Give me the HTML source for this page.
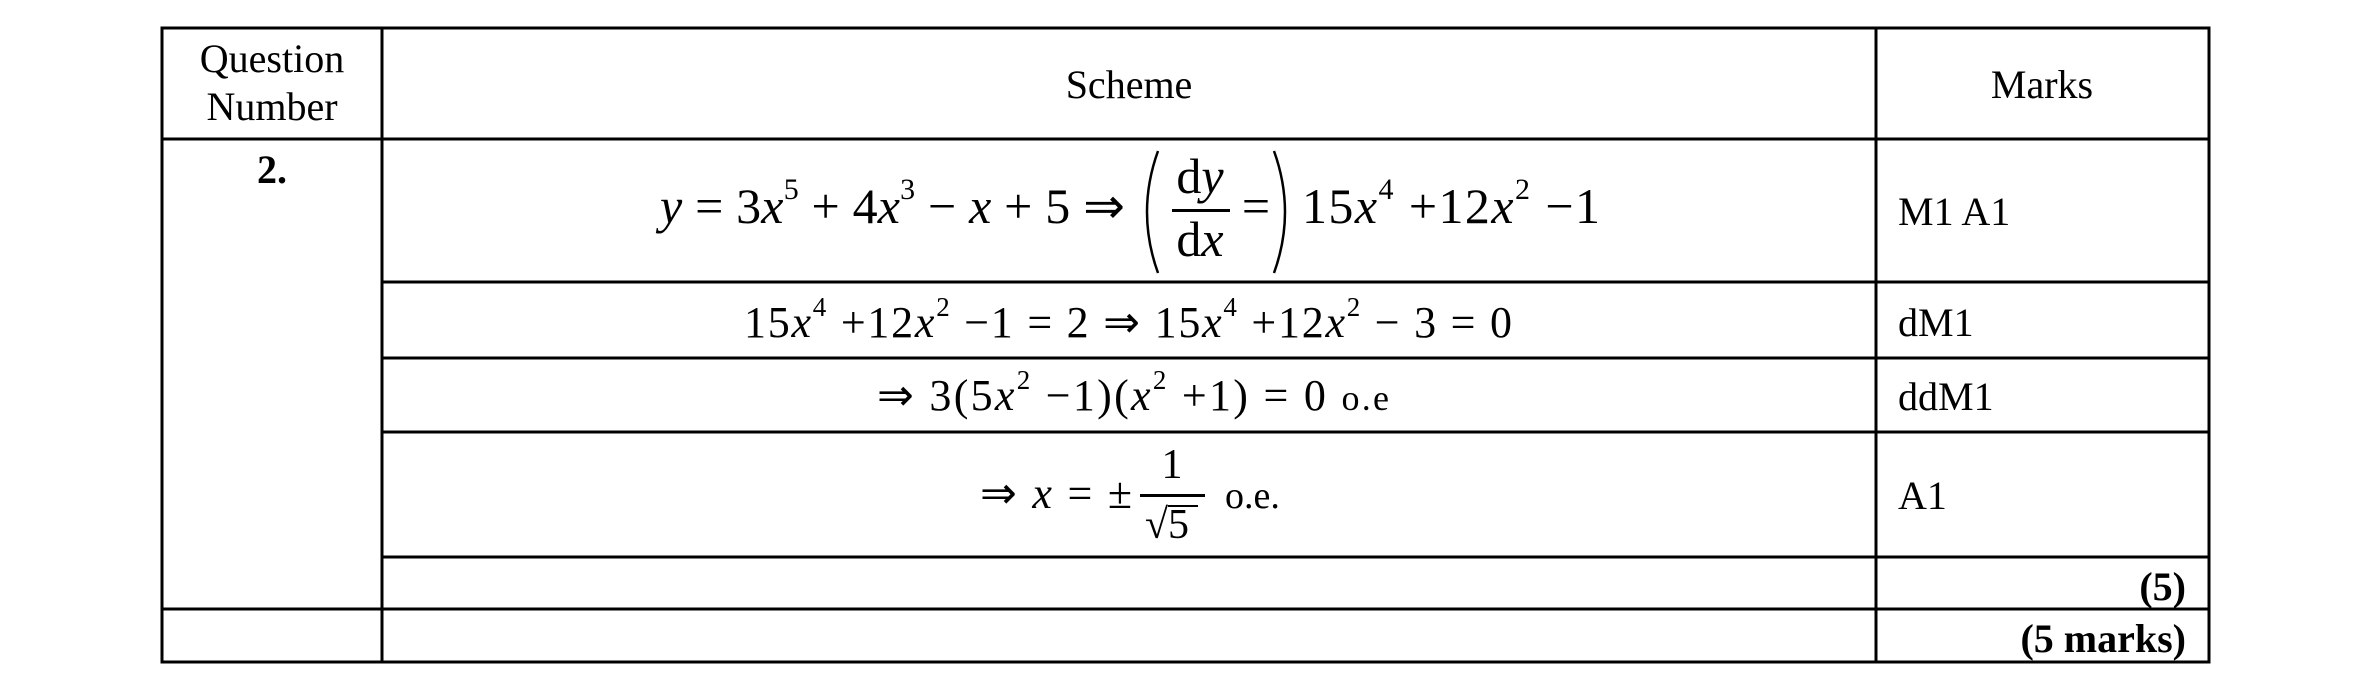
<!DOCTYPE html>
<html><head><meta charset="utf-8"><style>
html,body{margin:0;padding:0;background:#fff;}
svg{display:block;}
text{font-family:"Liberation Serif",serif;fill:#000;}
.i{font-style:italic;}
</style></head><body>
<svg width="2368" height="674" viewBox="0 0 2368 674" xmlns="http://www.w3.org/2000/svg">
<g stroke="#000" stroke-width="3" fill="none">
<rect x="162" y="28" width="2047" height="634"/>
<line x1="382" y1="28" x2="382" y2="662"/>
<line x1="1876" y1="28" x2="1876" y2="662"/>
<line x1="162" y1="139" x2="2209" y2="139"/>
<line x1="382" y1="282" x2="2209" y2="282"/>
<line x1="382" y1="358" x2="2209" y2="358"/>
<line x1="382" y1="432" x2="2209" y2="432"/>
<line x1="382" y1="557" x2="2209" y2="557"/>
<line x1="162" y1="609" x2="2209" y2="609"/>
</g>
<g font-size="40">
<text x="272" y="72" text-anchor="middle">Question</text>
<text x="272" y="120" text-anchor="middle">Number</text>
<text x="1129" y="98" text-anchor="middle">Scheme</text>
<text x="2042" y="98" text-anchor="middle">Marks</text>
<text x="272" y="183" text-anchor="middle" font-weight="bold">2.</text>
<text x="1898" y="225">M1 A1</text>
<text x="1898" y="336">dM1</text>
<text x="1898" y="410">ddM1</text>
<text x="1898" y="509">A1</text>
<text x="2186" y="600" text-anchor="end" font-weight="bold">(5)</text>
<text x="2186" y="652" text-anchor="end" font-weight="bold">(5 marks)</text>
</g>
<g font-size="50">
<text x="660" y="223" textLength="465" lengthAdjust="spacing"><tspan class="i">y</tspan> = 3<tspan class="i">x</tspan><tspan font-size="30" dy="-24">5</tspan><tspan dy="24"> + 4</tspan><tspan class="i">x</tspan><tspan font-size="30" dy="-24">3</tspan><tspan dy="24"> − </tspan><tspan class="i">x</tspan> + 5 ⇒</text>
<text x="1200" y="193" text-anchor="middle">d<tspan class="i">y</tspan></text>
<text x="1200" y="256" text-anchor="middle">d<tspan class="i">x</tspan></text>
<text x="1256" y="223" text-anchor="middle">=</text>
<text x="1302" y="223" textLength="298" lengthAdjust="spacing">15<tspan class="i">x</tspan><tspan font-size="30" dy="-24">4</tspan><tspan dy="24"> +12</tspan><tspan class="i">x</tspan><tspan font-size="30" dy="-24">2</tspan><tspan dy="24"> −1</tspan></text>
</g>
<rect x="1172" y="209" width="58" height="3" fill="#000"/>
<path d="M1158 151 Q1136 212 1158 273" stroke="#000" stroke-width="2.5" fill="none"/>
<path d="M1274 151 Q1296 212 1274 273" stroke="#000" stroke-width="2.5" fill="none"/>
<text x="744" y="337" font-size="44" textLength="768" lengthAdjust="spacing">15<tspan class="i">x</tspan><tspan font-size="27" dy="-21">4</tspan><tspan dy="21"> +12</tspan><tspan class="i">x</tspan><tspan font-size="27" dy="-21">2</tspan><tspan dy="21"> −1 = 2 ⇒ 15</tspan><tspan class="i">x</tspan><tspan font-size="27" dy="-21">4</tspan><tspan dy="21"> +12</tspan><tspan class="i">x</tspan><tspan font-size="27" dy="-21">2</tspan><tspan dy="21"> − 3 = 0</tspan></text>
<text x="877" y="410" font-size="44" textLength="512" lengthAdjust="spacing">⇒ 3(5<tspan class="i">x</tspan><tspan font-size="27" dy="-21">2</tspan><tspan dy="21"> −1)(</tspan><tspan class="i">x</tspan><tspan font-size="27" dy="-21">2</tspan><tspan dy="21"> +1) = 0 </tspan><tspan font-size="36"> o.e</tspan></text>
<text x="980" y="508" font-size="44" textLength="152" lengthAdjust="spacing">⇒ <tspan class="i">x</tspan> = ±</text>
<rect x="1140" y="494" width="65" height="3" fill="#000"/>
<text x="1172" y="478" font-size="42" text-anchor="middle">1</text>
<text x="1145" y="538" font-size="42">√5</text>
<rect x="1168" y="505" width="30" height="2" fill="#000"/>
<text x="1225" y="508" font-size="38">o.e.</text>
</svg>
</body></html>
